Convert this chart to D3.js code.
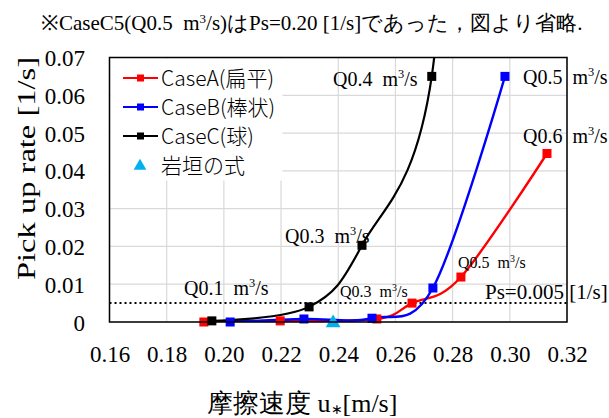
<!DOCTYPE html>
<html>
<head>
<meta charset="utf-8">
<script src="https://cdn.jsdelivr.net/npm/d3@7"></script>
<style>
  html, body { margin: 0; padding: 0; background: #fff; }
  svg { display: block; }
</style>
</head>
<body>
<svg id="chart" width="609" height="418"></svg>
<script>
// Friction velocity u* [m/s] and pick-up rate Ps [1/s] for each particle shape
const caseA_u  = [0.193, 0.2197, 0.2535, 0.2658, 0.2829, 0.313];
const caseA_ps = [0.0000, 0.0003, 0.0008, 0.0050, 0.0119, 0.0446];
const caseB_u  = [0.2022, 0.228, 0.2518, 0.2731, 0.2983];
const caseB_ps = [0.0000, 0.0008, 0.0010, 0.0090, 0.0650];
// CaseC5 (Ps = 0.20) lies above the axis range and is clipped off the plot
const caseC_u  = [0.1958, 0.2298, 0.2483, 0.2727, 0.283];
const caseC_ps = [0.0003, 0.0040, 0.0203, 0.0650, 0.2000];
const iwagaki_u  = [0.2382];
const iwagaki_ps = [0.0000];

const xTicks = [0.16, 0.18, 0.20, 0.22, 0.24, 0.26, 0.28, 0.30, 0.32];
const yTicks = [0, 0.01, 0.02, 0.03, 0.04, 0.05, 0.06, 0.07];
const psThreshold = 0.005;

const seriesNames = ["CaseA(扁平)", "CaseB(棒状)", "CaseC(球)", "岩垣の式"];
const seriesColors = ["#ff0000", "#0000ff", "#000000", "#00b0f0"];

const SERIF = '"Liberation Serif"';
const SANS = '"Noto Sans CJK JP"';

const svg = d3.select("#chart");
const plot = { left: 109.5, right: 567, top: 57.5, bottom: 322 };

const x = d3.scaleLinear().domain([0.16, 0.32]).range([plot.left, plot.right]);
const y = d3.scaleLinear().domain([0, 0.07]).range([plot.bottom, plot.top]);

// gridlines
const grid = svg.append("g");
grid.selectAll("line.v").data(xTicks).join("line")
  .attr("x1", d => x(d)).attr("x2", d => x(d))
  .attr("y1", plot.top).attr("y2", plot.bottom)
  .attr("stroke", "#d9d9d9").attr("stroke-width", 1.2);
grid.selectAll("line.h").data(yTicks).join("line")
  .attr("x1", plot.left).attr("x2", plot.right)
  .attr("y1", d => y(d)).attr("y2", d => y(d))
  .attr("stroke", "#d9d9d9").attr("stroke-width", 1.2);

// y axis labels
const yAxis = d3.axisLeft(y).tickValues(yTicks).tickSize(0).tickPadding(0)
  .tickFormat(d => d === 0 ? "0" : d3.format(".2f")(d));
svg.append("g").attr("transform", "translate(85,0)").call(yAxis)
  .call(g => g.select(".domain").remove())
  .call(g => g.selectAll("text")
    .style("font-family", SERIF).style("font-size", "23px")
    .attr("fill", "#000").attr("dy", "0.35em"));

// x axis labels
const xAxis = d3.axisBottom(x).tickValues(xTicks).tickSize(0).tickPadding(0)
  .tickFormat(d3.format(".2f"));
svg.append("g").attr("transform", "translate(0,346)").call(xAxis)
  .call(g => g.select(".domain").remove())
  .call(g => g.selectAll("text")
    .style("font-family", SERIF).style("font-size", "23px")
    .attr("fill", "#000").attr("dy", "0.71em"));

// clip region for the curves
svg.append("clipPath").attr("id", "plotClip").append("rect")
  .attr("x", plot.left).attr("y", plot.top)
  .attr("width", plot.right - plot.left).attr("height", plot.bottom - plot.top);

// threshold line Ps = 0.005
svg.append("line")
  .attr("x1", plot.left).attr("x2", plot.right)
  .attr("y1", y(psThreshold)).attr("y2", y(psThreshold))
  .attr("stroke", "#000").attr("stroke-width", 2).attr("stroke-dasharray", "2,3");

const series = [
  { u: caseA_u, ps: caseA_ps, color: seriesColors[0], width: 2.4 },
  { u: caseB_u, ps: caseB_ps, color: seriesColors[1], width: 2.4 },
  { u: caseC_u, ps: caseC_ps, color: seriesColors[2], width: 2.2 }
];

const line = d3.line()
  .x(d => x(d[0])).y(d => y(d[1]))
  .curve(d3.curveCardinal.tension(0));

const marks = svg.append("g").attr("clip-path", "url(#plotClip)");
series.forEach(s => {
  const pts = s.u.map((u, i) => [u, s.ps[i]]);
  marks.append("path").datum(pts)
    .attr("d", line).attr("fill", "none")
    .attr("stroke", s.color).attr("stroke-width", s.width);
});

// markers (drawn unclipped so points on the x-axis show fully)
const mk = svg.append("g");
series.forEach(s => {
  const pts = s.u.map((u, i) => [u, s.ps[i]]).filter(d => d[1] <= 0.07);
  mk.selectAll(null).data(pts).join("rect")
    .attr("x", d => x(d[0]) - 4.5).attr("y", d => y(d[1]) - 4.5)
    .attr("width", 9).attr("height", 9).attr("fill", s.color);
});
const tri = d3.symbol().type(d3.symbolTriangle).size(95);
mk.selectAll(null).data(iwagaki_u.map((u, i) => [u, iwagaki_ps[i]])).join("path")
  .attr("d", tri)
  .attr("transform", d => `translate(${x(d[0])},${y(d[1]) + 1})`)
  .attr("fill", seriesColors[3]);

// legend
const lg = svg.append("g");
lg.append("rect").attr("x", plot.left + 1).attr("y", plot.top + 1)
  .attr("width", 172).attr("height", 122).attr("fill", "#fff");
seriesNames.forEach((name, i) => {
  const cy = 78 + i * 29;
  if (i < 3) {
    lg.append("line").attr("x1", 123).attr("x2", 158).attr("y1", cy).attr("y2", cy)
      .attr("stroke", seriesColors[i]).attr("stroke-width", 2.2);
    lg.append("rect").attr("x", 137).attr("y", cy - 3.5).attr("width", 7).attr("height", 7)
      .attr("fill", seriesColors[i]);
  } else {
    lg.append("path").attr("d", d3.symbol().type(d3.symbolTriangle).size(70))
      .attr("transform", `translate(140,${cy + 1})`).attr("fill", seriesColors[i]);
  }
  lg.append("text").attr("x", 161).attr("y", cy).attr("dy", "0.36em")
    .style("font-family", SANS).style("font-size", "21px").style("font-weight", 300)
    .attr("fill", "#000").text(name);
});

// frame
svg.append("rect").attr("x", plot.left).attr("y", plot.top)
  .attr("width", plot.right - plot.left).attr("height", plot.bottom - plot.top)
  .attr("fill", "none").attr("stroke", "#000").attr("stroke-width", 1.5);

// discharge annotations
function qLabel(tx, ty, q, size) {
  const t = svg.append("text").attr("x", tx).attr("y", ty)
    .style("font-family", SERIF).style("font-size", size + "px").attr("fill", "#000");
  t.append("tspan").text(q + "\u00a0 m");
  t.append("tspan").style("font-size", (size * 0.62) + "px").attr("dy", -size * 0.38).text("3");
  t.append("tspan").attr("dy", size * 0.38).text("/s");
  return t;
}
qLabel(333, 86, "Q0.4", 20);
qLabel(523, 84, "Q0.5", 20);
qLabel(523, 143, "Q0.6", 20);
qLabel(285, 243, "Q0.3", 20);
qLabel(184, 295, "Q0.1", 20);
qLabel(340, 297, "Q0.3", 16);
qLabel(458, 268, "Q0.5", 16);

svg.append("text").attr("x", 485).attr("y", 299)
  .style("font-family", SERIF).style("font-size", "21px")
  .attr("fill", "#000").text("Ps=0.005 [1/s]");

// note above the chart
const note = svg.append("text").attr("x", 41).attr("y", 30)
  .style("font-family", SERIF).style("font-size", "21px").attr("fill", "#000");
note.append("tspan").text("※CaseC5(Q0.5\u00a0 m");
note.append("tspan").style("font-size", "13px").attr("dy", -7).text("3");
note.append("tspan").attr("dy", 7).text("/s)はPs=0.20 [1/s]であった，図より省略.");

// axis titles
svg.append("text")
  .attr("transform", "translate(35,168.5) rotate(-90)")
  .attr("text-anchor", "middle")
  .style("font-family", SERIF).style("font-size", "26px")
  .attr("textLength", 223).attr("lengthAdjust", "spacingAndGlyphs")
  .attr("fill", "#000").text("Pick up rate [1/s]");

const xt = svg.append("text").attr("x", 207).attr("y", 412)
  .style("font-family", SERIF).style("font-size", "26px").attr("fill", "#000");
xt.append("tspan").text("摩擦速度 u");
xt.append("tspan").style("font-size", "14px").attr("dy", 2).text("∗");
xt.append("tspan").attr("dy", -2).text("[m/s]");
</script>
</body>
</html>
